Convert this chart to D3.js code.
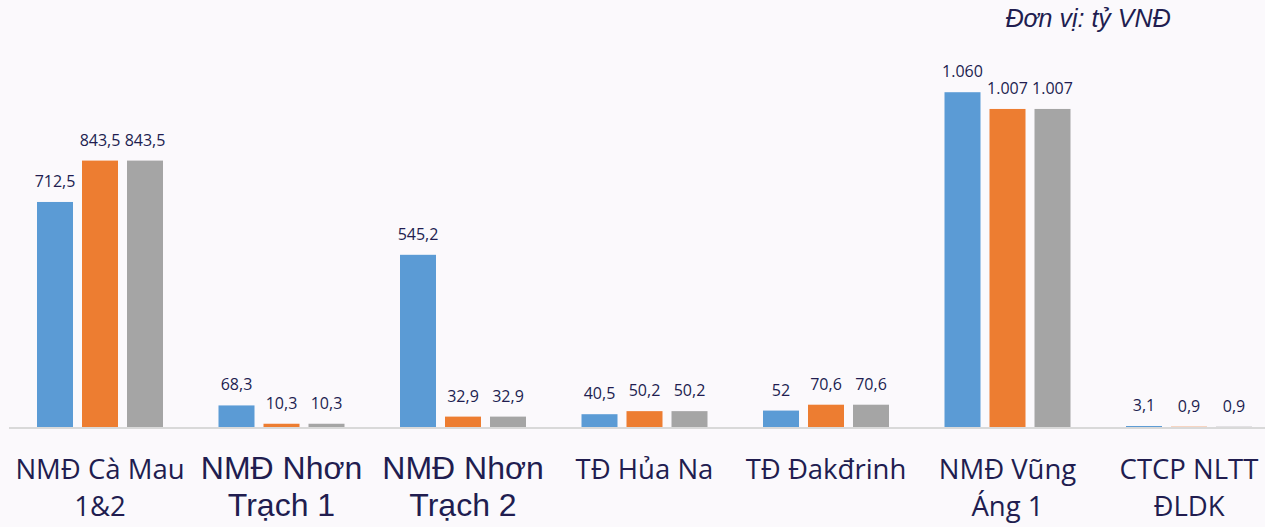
<!DOCTYPE html>
<html>
<head>
<meta charset="utf-8">
<script src="https://cdn.jsdelivr.net/npm/d3@7"></script>
<style>
  body { margin: 0; background: #fbf9fc; }
  svg { display: block; }
</style>
</head>
<body>
<svg width="1265" height="527"></svg>
<script>
// data
var categories = ["NMĐ Cà Mau 1&2", "NMĐ Nhơn Trạch 1", "NMĐ Nhơn Trạch 2", "TĐ Hủa Na", "TĐ Đakđrinh", "NMĐ Vũng Áng 1", "CTCP NLTT ĐLDK"];
var categoryLines = [["NMĐ Cà Mau", "1&2"], ["NMĐ Nhơn", "Trạch 1"], ["NMĐ Nhơn", "Trạch 2"], ["TĐ Hủa Na"], ["TĐ Đakđrinh"], ["NMĐ Vũng", "Áng 1"], ["CTCP NLTT", "ĐLDK"]];
var series = ["s1", "s2", "s3"];
var s1 = [712.5, 68.3, 545.2, 40.5, 52, 1060, 3.1];
var s2 = [843.5, 10.3, 32.9, 50.2, 70.6, 1007, 0.9];
var s3 = [843.5, 10.3, 32.9, 50.2, 70.6, 1007, 0.9];
var s1Labels = ["712,5", "68,3", "545,2", "40,5", "52", "1.060", "3,1"];
var s2Labels = ["843,5", "10,3", "32,9", "50,2", "70,6", "1.007", "0,9"];
var s3Labels = ["843,5", "10,3", "32,9", "50,2", "70,6", "1.007", "0,9"];
var unitText = "Đơn vị: tỷ VNĐ";

var colors = {s1: "#5b9bd5", s2: "#ed7d31", s3: "#a5a5a5"};
var textColor = "#211d50";
// these two labels are set in a different (arial-like) font in the original
var arialCats = ["NMĐ Nhơn Trạch 1", "NMĐ Nhơn Trạch 2"];

var svg = d3.select("svg"),
    width = +svg.attr("width"),
    height = +svg.attr("height");

var baseY = 427;

var x0 = d3.scaleBand()
    .domain(categories)
    .range([9.25, 9.25 + 181.5 * categories.length]);

var x1 = d3.scaleBand()
    .domain(series)
    .range([-67.5, 67.5])
    .paddingInner(0.2)
    .paddingOuter(0.1);

var y = d3.scaleLinear()
    .domain([0, 1200])
    .range([baseY, 48]);

var values = {s1: s1, s2: s2, s3: s3};
var labels = {s1: s1Labels, s2: s2Labels, s3: s3Labels};

var rows = [];
categories.forEach(function(c, i) {
  series.forEach(function(s) {
    rows.push({cat: c, s: s, v: values[s][i], label: labels[s][i]});
  });
});

// baseline
svg.append("line")
    .attr("x1", 9).attr("x2", width)
    .attr("y1", baseY + 1).attr("y2", baseY + 1)
    .attr("stroke", "#d9d9d9")
    .attr("stroke-width", 2);

var g = svg.append("g");

g.selectAll("rect")
    .data(rows)
    .enter().append("rect")
    .attr("x", function(d) { return x0(d.cat) + x0.bandwidth() / 2 + x1(d.s); })
    .attr("y", function(d) { return y(d.v); })
    .attr("width", x1.bandwidth())
    .attr("height", function(d) { return baseY - y(d.v); })
    .attr("fill", function(d) { return colors[d.s]; });

g.selectAll("text.val")
    .data(rows)
    .enter().append("text")
    .attr("class", "val")
    .attr("x", function(d) { return x0(d.cat) + x0.bandwidth() / 2 + x1(d.s) + x1.bandwidth() / 2; })
    .attr("y", function(d) { return y(d.v) - 15; })
    .attr("text-anchor", "middle")
    .attr("font-family", "'Open Sans', sans-serif")
    .attr("font-size", 16)
    .attr("fill", textColor)
    .text(function(d) { return d.label; });

// category labels
var catG = svg.append("g")
    .selectAll("text")
    .data(categories)
    .enter().append("text")
    .attr("text-anchor", "middle")
    .attr("fill", textColor)
    .attr("font-family", function(d) { return arialCats.indexOf(d) > -1 ? "'Liberation Sans', Arial, sans-serif" : "'Open Sans', sans-serif"; })
    .attr("font-size", function(d) { return arialCats.indexOf(d) > -1 ? 32 : 27.5; });

catG.selectAll("tspan")
    .data(function(d, i) { return categoryLines[i].map(function(t) { return {t: t, cat: d}; }); })
    .enter().append("tspan")
    .attr("x", function(d) { return x0(d.cat) + x0.bandwidth() / 2; })
    .attr("y", function(d, i) { return 479 + i * 37; })
    .text(function(d) { return d.t; });

svg.append("text")
    .attr("x", 1088)
    .attr("y", 27)
    .attr("text-anchor", "middle")
    .attr("font-family", "'Liberation Sans', Arial, sans-serif")
    .attr("font-style", "italic")
    .attr("font-size", 25)
    .attr("fill", textColor)
    .text(unitText);
</script>
</body>
</html>
